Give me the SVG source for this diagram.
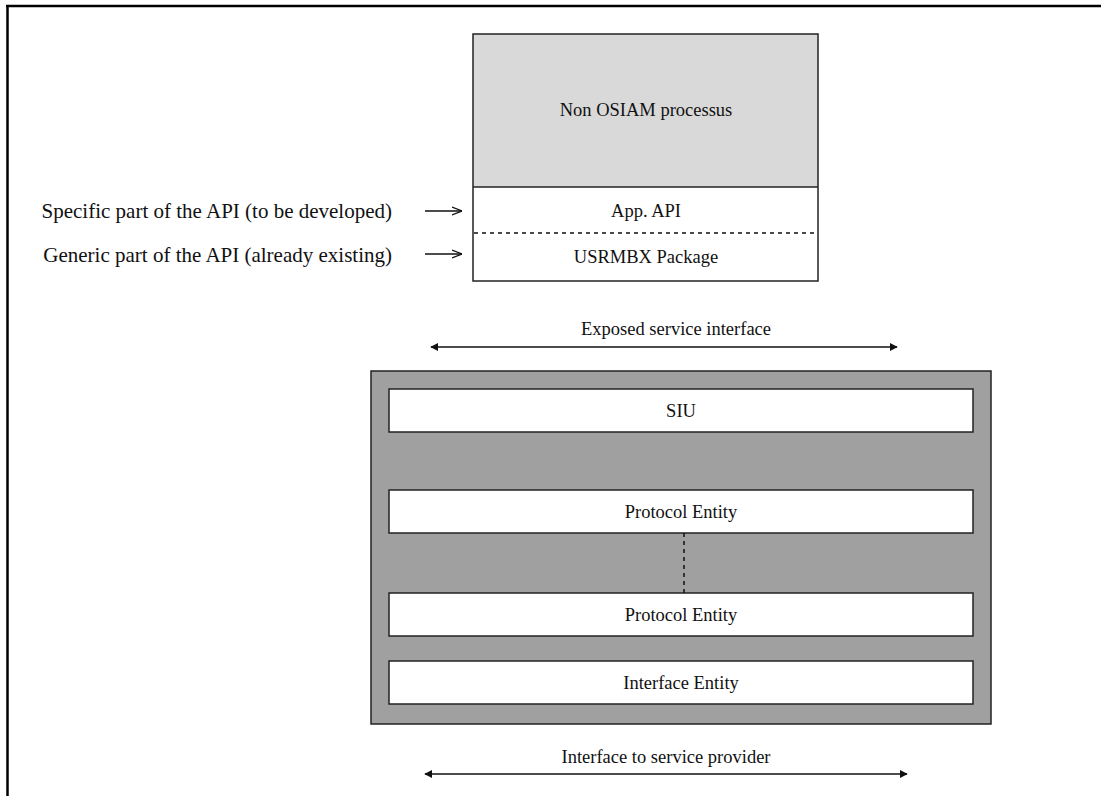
<svg xmlns="http://www.w3.org/2000/svg" width="1101" height="796" viewBox="0 0 1101 796">
<defs>
<style>
text{font-family:"Liberation Serif","Times New Roman",serif;fill:#111;}
.c{text-anchor:middle;font-size:18.5px;}
.l{text-anchor:end;font-size:21px;}
.box{stroke:#222;stroke-width:1.5;}
.wb{fill:#fff;stroke:#222;stroke-width:1.5;}
.conn{stroke:#111;stroke-width:1.5;fill:none;}
</style>
<marker id="open" viewBox="0 0 10 10" refX="10" refY="5" markerWidth="10" markerHeight="10" markerUnits="userSpaceOnUse" orient="auto">
<path d="M0,1 L10,5 L0,9" fill="none" stroke="#111" stroke-width="1.2"/>
</marker>
<marker id="solid" viewBox="0 0 10 10" refX="9" refY="5" markerWidth="8" markerHeight="8" markerUnits="userSpaceOnUse" orient="auto-start-reverse">
<path d="M0,0 L10,5 L0,10 Z" fill="#111"/>
</marker>
</defs>
<rect width="1101" height="796" fill="#fff"/>
<g id="frame">
<line x1="6" y1="6" x2="1101" y2="6" stroke="#000" stroke-width="2.5"/>
<line x1="7.5" y1="5" x2="7.5" y2="796" stroke="#000" stroke-width="2.5"/>
</g>
<g id="non-osiam">
<rect x="473" y="34" width="345" height="153" fill="#d9d9d9"/>
<text class="c" x="646" y="116">Non OSIAM processus</text>
</g>
<g id="app-api">
<rect x="473" y="187" width="345" height="46" fill="#fff"/>
<text class="c" x="646" y="217">App. API</text>
</g>
<g id="usrmbx">
<rect x="473" y="233" width="345" height="48" fill="#fff"/>
<text class="c" x="646" y="263">USRMBX Package</text>
</g>
<g id="top-outline">
<rect x="473" y="34" width="345" height="247" fill="none" class="box"/>
<line x1="473" y1="187" x2="818" y2="187" stroke="#222" stroke-width="1.5"/>
<line x1="474" y1="233" x2="818" y2="233" stroke="#111" stroke-width="1.5" stroke-dasharray="4 4"/>
</g>
<g id="label-specific">
<text class="l" x="392" y="218">Specific part of the API (to be developed)</text>
</g>
<g id="label-generic">
<text class="l" x="392" y="262">Generic part of the API (already existing)</text>
</g>
<g id="label-exposed">
<text class="c" x="676" y="335">Exposed service interface</text>
</g>
<g id="osiam-block">
<rect x="371" y="371" width="620" height="353" fill="#a0a0a0" class="box"/>
</g>
<g id="siu">
<rect x="389" y="389" width="584" height="43" class="wb"/>
<text class="c" x="681" y="417">SIU</text>
</g>
<g id="protocol-entity-1">
<rect x="389" y="490" width="584" height="43" class="wb"/>
<text class="c" x="681" y="518">Protocol Entity</text>
</g>
<g id="protocol-entity-2">
<rect x="389" y="593" width="584" height="43" class="wb"/>
<text class="c" x="681" y="621">Protocol Entity</text>
</g>
<g id="interface-entity">
<rect x="389" y="661" width="584" height="43" class="wb"/>
<text class="c" x="681" y="689">Interface Entity</text>
</g>
<g id="label-provider">
<text class="c" x="666" y="763">Interface to service provider</text>
</g>
<g id="connectors">
<line class="conn" x1="425" y1="211" x2="462" y2="211" marker-end="url(#open)"/>
<line class="conn" x1="425" y1="254" x2="462" y2="254" marker-end="url(#open)"/>
<line class="conn" x1="431" y1="347" x2="897" y2="347" marker-start="url(#solid)" marker-end="url(#solid)"/>
<line class="conn" x1="684" y1="533" x2="684" y2="593" stroke-dasharray="4 4" stroke-width="2"/>
<line class="conn" x1="425" y1="774" x2="907" y2="774" marker-start="url(#solid)" marker-end="url(#solid)"/>
</g>
</svg>
